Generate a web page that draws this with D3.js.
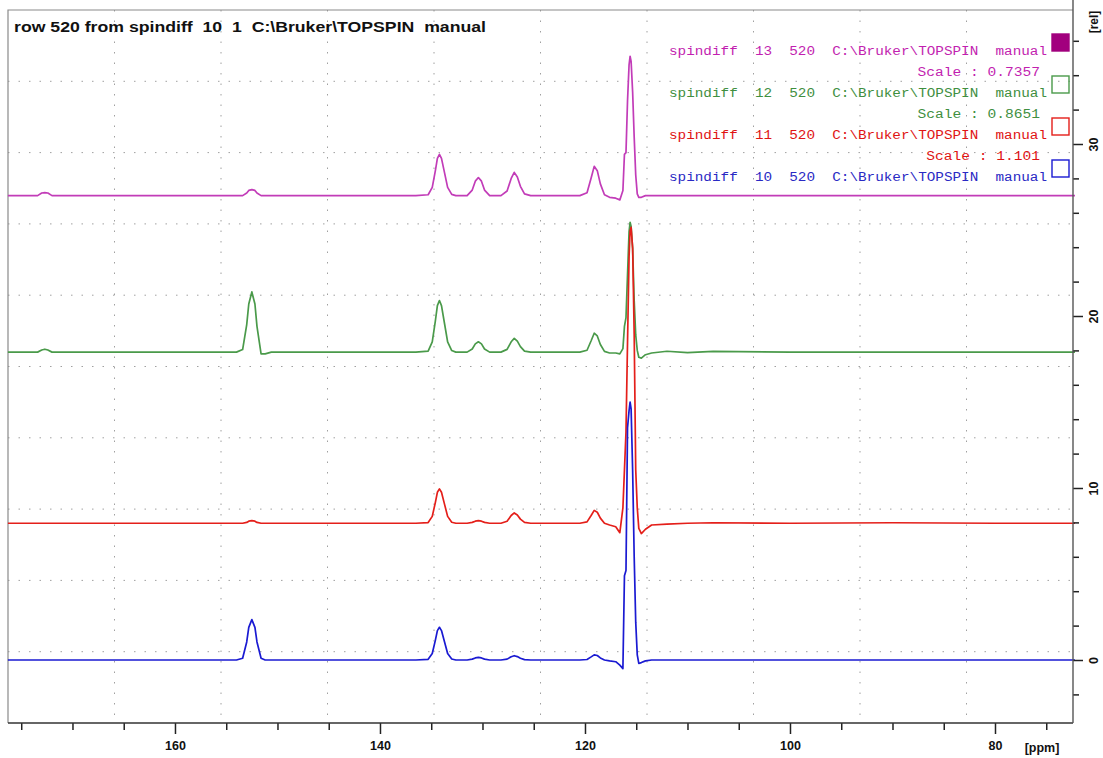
<!DOCTYPE html>
<html><head><meta charset="utf-8">
<script src="https://cdn.jsdelivr.net/npm/d3@7"></script>
<style>
body{margin:0;background:#fff;}
svg{display:block;}
</style>
</head><body>
<svg id="chart" width="1103" height="758"></svg>
<script>
// ---- data (chemical shift grid in ppm, shared by all rows) ----
const ppm = [
  176.3, 173.4, 173.0, 172.7, 172.4, 172.0,
  154.0, 153.4, 153.0, 152.8, 152.5, 152.2, 152.0, 151.6, 151.2, 150.6,
  136.5, 135.3, 134.9, 134.6, 134.4, 134.2, 134.0, 133.7, 133.4, 133.0, 132.6,
  131.5, 131.0, 130.7, 130.4, 130.1, 129.8, 129.3,
  128.2, 127.6, 127.2, 126.9, 126.6, 126.3, 125.9, 125.3,
  120.5, 119.8, 119.4, 119.1, 118.8, 118.5, 118.1, 117.6,
  117.0, 116.6, 116.3, 116.15, 116.0, 115.85, 115.7, 115.6, 115.5, 115.35, 115.2, 115.05, 114.9, 114.75, 114.5, 114.1, 113.5,
  112.0, 110.0, 107.5, 100.0, 90.0, 80.0, 72.2
];
// intensities [rel], relative to each row's baseline
const spindiff10 = [
  0, 0, 0, 0, 0, 0,
  0, 0.1, 1.05, 1.9, 2.35, 1.9, 1.05, 0.1, 0, 0,
  0, 0.04, 0.38, 1.14, 1.71, 1.9, 1.71, 1.05, 0.38, 0.06, 0,
  0, 0.05, 0.12, 0.15, 0.12, 0.05, 0,
  0, 0.05, 0.19, 0.25, 0.2, 0.1, 0.02, 0,
  0, 0.03, 0.18, 0.3, 0.26, 0.12, 0, -0.05,
  -0.1, -0.3, -0.5, 4.9, 5.2, 13.5, 14.5, 15.0, 14.6, 11.0, 6.0, 2.2, 0.3, -0.2, -0.15, -0.05, 0,
  0, 0, 0, 0, 0, 0, 0
];
const spindiff11 = [
  0, 0, 0, 0, 0, 0,
  0, 0, 0.05, 0.12, 0.15, 0.12, 0.05, 0, 0, 0,
  0, 0.04, 0.4, 1.2, 1.8, 2.0, 1.8, 1.1, 0.4, 0.06, 0,
  0, 0.05, 0.12, 0.15, 0.12, 0.05, 0,
  0, 0.12, 0.45, 0.6, 0.48, 0.24, 0.05, 0,
  0, 0.08, 0.45, 0.75, 0.64, 0.3, 0, -0.1,
  -0.2, -0.55, 0.9, 3.1, 5.3, 10.5, 15.5, 17.0, 17.2, 16.0, 11.0, 3.1, 0.9, -0.3, -0.6, -0.35, -0.1,
  -0.05, 0, 0.03, 0, 0.03, 0, 0
];
const spindiff12 = [
  0, 0, 0.12, 0.17, 0.12, 0,
  0, 0.15, 1.6, 2.8, 3.5, 2.8, 1.5, -0.1, -0.1, 0,
  0, 0.06, 0.6, 1.8, 2.7, 3.0, 2.7, 1.65, 0.6, 0.09, 0,
  0, 0.18, 0.48, 0.6, 0.48, 0.18, 0,
  0, 0.16, 0.6, 0.8, 0.64, 0.32, 0.06, 0,
  0, 0.11, 0.66, 1.1, 0.94, 0.44, 0.04, -0.05,
  -0.05, -0.1, 0.2, 1.5, 2.0, 4.5, 7.0, 7.55, 7.3, 6.0, 3.0, 1.0, 0.1, -0.3, -0.35, -0.15, -0.05,
  0.05, -0.03, 0.04, 0, 0, 0, 0
];
const spindiff13 = [
  0, 0, 0.15, 0.17, 0.15, 0,
  0, 0, 0.15, 0.3, 0.35, 0.3, 0.15, 0, 0, 0,
  0, 0.05, 0.48, 1.44, 2.16, 2.4, 2.16, 1.32, 0.48, 0.07, 0,
  0, 0.32, 0.84, 1.05, 0.84, 0.32, 0,
  0, 0.27, 1.0, 1.35, 1.08, 0.54, 0.1, 0,
  0, 0.17, 1.02, 1.7, 1.45, 0.68, 0.05, -0.1,
  -0.15, -0.25, 0.3, 2.4, 2.5, 5.5, 7.6, 8.1, 7.8, 6.0, 3.4, 1.2, 0.1, -0.1, -0.1, 0, 0,
  0, 0, 0, 0, 0, 0, 0
];
// display offsets of each row [rel]
const rowOffsets = [0, 7.95, 17.9, 27.0];
const rowLabels = [
  "spindiff  10  520  C:\\Bruker\\TOPSPIN  manual",
  "spindiff  11  520  C:\\Bruker\\TOPSPIN  manual",
  "spindiff  12  520  C:\\Bruker\\TOPSPIN  manual",
  "spindiff  13  520  C:\\Bruker\\TOPSPIN  manual"
];
const scaleLabels = ["", "Scale : 1.101", "Scale : 0.8651", "Scale : 0.7357"];
const xTickLabels = [160, 140, 120, 100, 80];
const yTickLabels = [0, 10, 20, 30];
const titleText = "row 520 from spindiff  10  1  C:\\Bruker\\TOPSPIN  manual";

// ---- styling ----
const lineColors = ["#1a1ad2", "#e41f1a", "#4a9a4a", "#c23cb8"];
const textColors = ["#2a2ac4", "#e01414", "#3f8f3f", "#c21fb0"];
const SANS = "'Liberation Sans', Arial, sans-serif";
const MONO = "'Liberation Mono', 'Courier New', monospace";

const svg = d3.select("#chart");
const F = {left: 8, right: 1073, top: 10, bottom: 723};

const x = d3.scaleLinear().domain([176.29, 72.39]).range([F.left, F.right]);
const y = d3.scaleLinear().domain([-63 / 17.2, 650 / 17.2]).range([F.bottom, F.top]);

svg.append("rect").attr("width", 1103).attr("height", 758).attr("fill", "#fff");

// grid (equal divisions of the plot area)
const gx = d3.range(1, 10).map(k => F.left + k * (F.right - F.left) / 10);
const gy = d3.range(1, 10).map(k => F.top + k * (F.bottom - F.top) / 10);
const grid = svg.append("g").attr("stroke", "#a0a0a0").attr("stroke-width", 1)
  .attr("stroke-dasharray", "1.5,9");
grid.selectAll(".vg").data(gx).join("line").attr("class", "vg")
  .attr("x1", d => d).attr("x2", d => d).attr("y1", F.top).attr("y2", F.bottom);
grid.selectAll(".hg").data(gy).join("line").attr("class", "hg")
  .attr("y1", d => d).attr("y2", d => d).attr("x1", F.left).attr("x2", F.right);

// frame (left and top)
svg.append("path").attr("d", `M${F.left},${F.bottom}V${F.top}H${F.right}`)
  .attr("fill", "none").attr("stroke", "#8a8a8a").attr("stroke-width", 1.2);

// spectra
const series = [spindiff10, spindiff11, spindiff12, spindiff13];
const line = d3.line().x(d => x(d[0])).y(d => y(d[1]));
const drawOrder = [3, 2, 1, 0];
drawOrder.forEach(i => {
  const pts = ppm.map((p, j) => [p, series[i][j] + rowOffsets[i]]);
  svg.append("path").datum(pts).attr("d", line)
    .attr("fill", "none").attr("stroke", lineColors[i]).attr("stroke-width", 1.7)
    .attr("stroke-linejoin", "round");
});

// x axis
const xMinor = d3.range(175, 72, -5).filter(v => !xTickLabels.includes(v));
const xa = svg.append("g").attr("transform", `translate(0,${F.bottom})`);
xa.call(d3.axisBottom(x).tickValues(xMinor).tickSize(7).tickFormat(""));
xa.select(".domain").remove();
const xb = svg.append("g").attr("transform", `translate(0,${F.bottom})`);
xb.call(d3.axisBottom(x).tickValues(xTickLabels).tickSize(11).tickPadding(7).tickFormat(d3.format("d")));
xb.select(".domain").remove();
svg.selectAll(".tick line").attr("stroke", "#222").attr("stroke-width", 1.5);
xb.selectAll("text").style("font-family", SANS).style("font-size", "12.5px")
  .style("font-weight", "bold").attr("fill", "#111");
svg.append("line").attr("x1", F.left).attr("x2", F.right).attr("y1", F.bottom).attr("y2", F.bottom)
  .attr("stroke", "#333").attr("stroke-width", 1.6);
svg.append("text").attr("x", 1042).attr("y", 752).attr("text-anchor", "middle")
  .style("font-family", SANS).style("font-size", "12.5px").style("font-weight", "bold")
  .attr("fill", "#111").text("[ppm]");

// y axis (right)
const yMinor = d3.range(-2, 38, 2).filter(v => !yTickLabels.includes(v));
const ya = svg.append("g").attr("transform", `translate(${F.right},0)`);
ya.call(d3.axisRight(y).tickValues(yMinor).tickSize(6).tickFormat(""));
ya.select(".domain").remove();
const yb = svg.append("g").attr("transform", `translate(${F.right},0)`);
yb.call(d3.axisRight(y).tickValues(yTickLabels).tickSize(10).tickFormat(d3.format("d")));
yb.select(".domain").remove();
svg.selectAll(".tick line").attr("stroke", "#222").attr("stroke-width", 1.5);
yb.selectAll("text").attr("x", null).attr("dy", "0.35em").attr("text-anchor", "middle")
  .attr("transform", "translate(21,0) rotate(-90)")
  .style("font-family", SANS).style("font-size", "12.5px").style("font-weight", "bold")
  .attr("fill", "#111");
svg.append("line").attr("x1", F.right).attr("x2", F.right).attr("y1", 0).attr("y2", F.bottom)
  .attr("stroke", "#555").attr("stroke-width", 1.4);
svg.append("text").attr("transform", `translate(${F.right + 21},22) rotate(-90)`)
  .attr("dy", "0.35em").attr("text-anchor", "middle")
  .style("font-family", SANS).style("font-size", "12px").style("font-weight", "bold")
  .attr("fill", "#111").text("[rel]");

// title
svg.append("text").attr("x", 14).attr("y", 32).style("white-space", "pre")
  .style("font-family", SANS).style("font-size", "14px").style("font-weight", "bold")
  .attr("fill", "#111")
  .attr("textLength", 472).attr("lengthAdjust", "spacingAndGlyphs").text(titleText);

// legend (top to bottom: 13, 12, 11, 10)
const legendOrder = [3, 2, 1, 0];
legendOrder.forEach((i, k) => {
  const base = 55 + k * 42;
  svg.append("text").attr("x", 1047).attr("y", base).attr("text-anchor", "end")
    .style("white-space", "pre").style("font-family", MONO).style("font-size", "12.5px")
    .attr("fill", textColors[i])
    .attr("textLength", 378).attr("lengthAdjust", "spacingAndGlyphs").text(rowLabels[i]);
  if (scaleLabels[i]) {
    svg.append("text").attr("x", 1040).attr("y", base + 21).attr("text-anchor", "end")
      .style("white-space", "pre").style("font-family", MONO).style("font-size", "12.5px")
      .attr("fill", textColors[i])
      .attr("textLength", scaleLabels[i].length * 8.75).attr("lengthAdjust", "spacingAndGlyphs")
      .text(scaleLabels[i]);
  }
  svg.append("rect").attr("x", 1052).attr("y", 34 + k * 42).attr("width", 17).attr("height", 17)
    .attr("fill", i === 3 ? "#a2007e" : "none")
    .attr("stroke", i === 3 ? "#a2007e" : lineColors[i]).attr("stroke-width", 1.4);
});
</script>
</body></html>
